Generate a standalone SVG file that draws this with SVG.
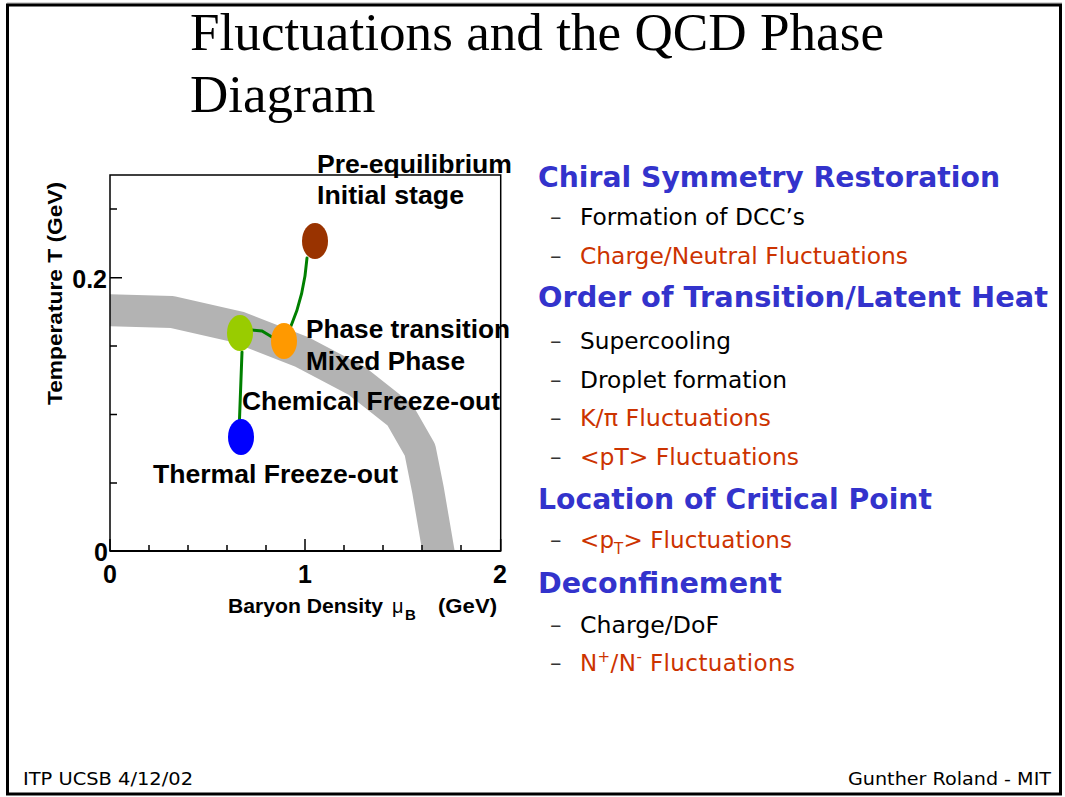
<svg xmlns="http://www.w3.org/2000/svg" width="1065" height="797" viewBox="0 0 1065 797">
<style>
.title{font-family:"Liberation Serif","Times New Roman",serif;font-size:53px;fill:#000}
.lab{font-family:"Liberation Sans",Arial,sans-serif;font-weight:bold;font-size:25px;fill:#000}
.tick{font-family:"Liberation Sans",Arial,sans-serif;font-weight:bold;font-size:25px;fill:#000}
.ax{font-family:"Liberation Sans",Arial,sans-serif;font-weight:bold;font-size:20px;fill:#000}
.h{font-family:"DejaVu Sans",Verdana,sans-serif;font-weight:bold;font-size:28px;fill:#3333cc}
.s{font-family:"DejaVu Sans",Verdana,sans-serif;font-size:23px;fill:#000}
.r{fill:#cc3300}
.d{font-family:"DejaVu Sans",Verdana,sans-serif;font-size:23px;fill:#333}
.foot{font-family:"DejaVu Sans",Verdana,sans-serif;font-size:18px;fill:#000}
.tk{stroke:#000;stroke-width:1.5;fill:none}
.conn{stroke:#008000;stroke-width:3;fill:none;stroke-linecap:round}
</style>
<defs>
<clipPath id="plotclip"><rect x="110" y="175" width="391" height="376"/></clipPath>
</defs>
<rect x="0" y="0" width="1065" height="797" fill="#fff"/>
<line x1="7" y1="3" x2="1062" y2="3" stroke="#aaa" stroke-width="1"/>
<rect x="7.5" y="5" width="1053" height="789" fill="none" stroke="#000" stroke-width="3"/>

<g id="title">
<text class="title" x="190" y="50" textLength="694" lengthAdjust="spacingAndGlyphs">Fluctuations and the QCD Phase</text>
<text class="title" x="190" y="112">Diagram</text>
</g>

<g id="plot">
<polyline clip-path="url(#plotclip)" points="100,310 172,312 238,327 302,352 357,381 400,415 420,450 428,490 440,560" fill="none" stroke="#b3b3b3" stroke-width="32" stroke-linejoin="round"/>
<rect x="110" y="175" width="390.7" height="376" class="tk"/>
<line x1="110" y1="551" x2="500.7" y2="551" stroke="#000" stroke-width="2"/>
<path class="tk" d="M110,277.7H122 M110,209H117 M110,346H117 M110,414.5H117 M110,483H117 M110,551H122"/>
<path class="tk" d="M110,551V539 M305,551V539 M500.7,551V539 M149,551V545 M188,551V545 M227,551V545 M266,551V545 M344,551V545 M383,551V545 M422,551V545 M461,551V545"/>
<text class="tick" x="107" y="288" text-anchor="end">0.2</text>
<text class="tick" x="108" y="561" text-anchor="end">0</text>
<text class="tick" x="110" y="583" text-anchor="middle">0</text>
<text class="tick" x="305" y="583" text-anchor="middle">1</text>
<text class="tick" x="500" y="583" text-anchor="middle">2</text>
<text class="ax" x="228" y="613" textLength="155" lengthAdjust="spacingAndGlyphs">Baryon Density</text>
<text class="ax" x="392" y="613" style="font-weight:normal">μ</text>
<text class="ax" x="405" y="620" style="font-size:15px">B</text>
<text class="ax" x="438" y="613" textLength="59" lengthAdjust="spacingAndGlyphs">(GeV)</text>
<text class="ax" transform="translate(62,405) rotate(-90)" x="0" y="0" textLength="223" lengthAdjust="spacingAndGlyphs">Temperature T (GeV)</text>
</g>

<g id="connectors">
<path class="conn" d="M307,258 C305,285 300,305 291,326"/>
<polyline class="conn" points="252,330 262,331 272,337"/>
<path class="conn" d="M242,352 L239.5,419"/>
</g>

<g id="node-preequilibrium">
<ellipse cx="315" cy="241" rx="13" ry="18" fill="#993300"/>
<text class="lab" x="317" y="173" textLength="195" lengthAdjust="spacingAndGlyphs">Pre-equilibrium</text>
<text class="lab" x="317" y="204" textLength="147" lengthAdjust="spacingAndGlyphs">Initial stage</text>
</g>
<g id="node-phase-transition">
<ellipse cx="284" cy="341" rx="13" ry="18" fill="#ff9900"/>
<text class="lab" x="306" y="338" textLength="204" lengthAdjust="spacingAndGlyphs">Phase transition</text>
<text class="lab" x="306" y="370" textLength="159" lengthAdjust="spacingAndGlyphs">Mixed Phase</text>
</g>
<g id="node-chemical-freezeout">
<ellipse cx="240" cy="333" rx="13" ry="18" fill="#99cc00"/>
<text class="lab" x="242" y="410" textLength="258" lengthAdjust="spacingAndGlyphs">Chemical Freeze-out</text>
</g>
<g id="node-thermal-freezeout">
<ellipse cx="241" cy="437" rx="13" ry="18" fill="#0000ff"/>
<text class="lab" x="153" y="483" textLength="245" lengthAdjust="spacingAndGlyphs">Thermal Freeze-out</text>
</g>

<g id="list">
<text class="h" x="538" y="187" textLength="462" lengthAdjust="spacingAndGlyphs">Chiral Symmetry Restoration</text>
<text class="d" x="550" y="225">–</text><text class="s" x="580" y="225" textLength="225" lengthAdjust="spacingAndGlyphs">Formation of DCC’s</text>
<text class="d" x="550" y="264">–</text><text class="s r" x="580" y="264" textLength="328" lengthAdjust="spacingAndGlyphs">Charge/Neutral Fluctuations</text>
<text class="h" x="538" y="307" textLength="510" lengthAdjust="spacingAndGlyphs">Order of Transition/Latent Heat</text>
<text class="d" x="550" y="349">–</text><text class="s" x="580" y="349" textLength="151" lengthAdjust="spacingAndGlyphs">Supercooling</text>
<text class="d" x="550" y="388">–</text><text class="s" x="580" y="388" textLength="207" lengthAdjust="spacingAndGlyphs">Droplet formation</text>
<text class="d" x="550" y="426">–</text><text class="s r" x="580" y="426" textLength="191" lengthAdjust="spacingAndGlyphs">K/π Fluctuations</text>
<text class="d" x="550" y="465">–</text><text class="s r" x="580" y="465" textLength="219" lengthAdjust="spacingAndGlyphs">&lt;pT&gt; Fluctuations</text>
<text class="h" x="538" y="509" textLength="394" lengthAdjust="spacingAndGlyphs">Location of Critical Point</text>
<text class="d" x="550" y="548">–</text><text class="s r" x="580" y="548" textLength="212" lengthAdjust="spacing">&lt;p<tspan dy="6" font-size="15">T</tspan><tspan dy="-6">&gt; Fluctuations</tspan></text>
<text class="h" x="538" y="593" textLength="244" lengthAdjust="spacingAndGlyphs">Deconfinement</text>
<text class="d" x="550" y="633">–</text><text class="s" x="580" y="633" textLength="139" lengthAdjust="spacingAndGlyphs">Charge/DoF</text>
<text class="d" x="550" y="671">–</text><text class="s r" x="580" y="671" textLength="215" lengthAdjust="spacing">N<tspan dy="-9" font-size="15">+</tspan><tspan dy="9">/N</tspan><tspan dy="-9" font-size="15">-</tspan><tspan dy="9"> Fluctuations</tspan></text>
</g>

<g id="footer">
<text class="foot" x="23" y="785" textLength="170" lengthAdjust="spacingAndGlyphs">ITP UCSB 4/12/02</text>
<text class="foot" x="1051" y="785" text-anchor="end" textLength="203" lengthAdjust="spacingAndGlyphs">Gunther Roland - MIT</text>
</g>
</svg>
